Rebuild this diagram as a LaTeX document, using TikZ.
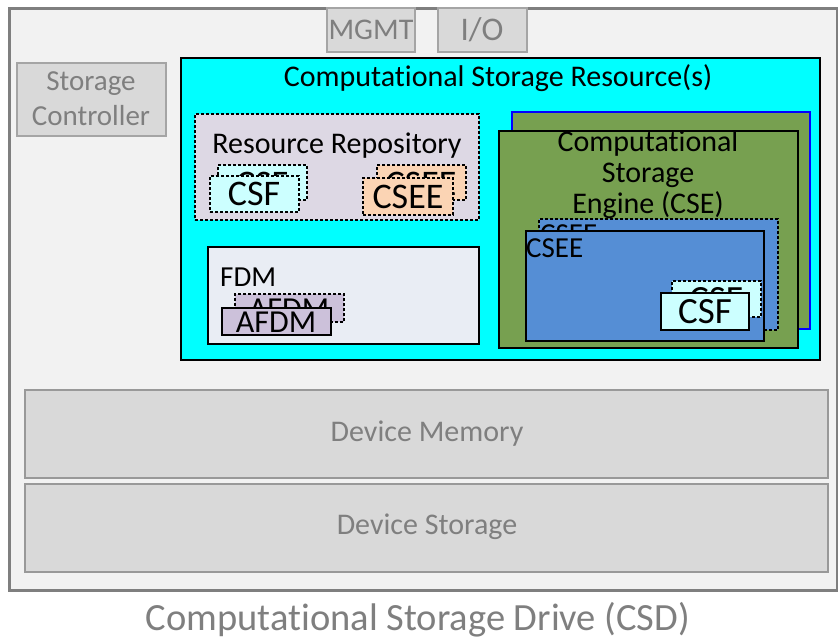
\documentclass[tikz,border=0pt]{standalone}
\usepackage{fontspec}
\setmainfont{Carlito}[Ligatures=NoCommon]
\definecolor{framegray}{HTML}{7F7F7F}
\definecolor{bggray}{HTML}{F2F2F2}
\definecolor{boxgray}{HTML}{D9D9D9}
\definecolor{txtgray}{HTML}{7F7F7F}
\definecolor{cyanbg}{HTML}{00FFFF}
\definecolor{repofill}{HTML}{DDD8E4}
\definecolor{csffill}{HTML}{CCFFFF}
\definecolor{cseefill}{HTML}{FBD4B4}
\definecolor{fdmfill}{HTML}{E9EDF4}
\definecolor{afdmfill}{HTML}{CCC1DA}
\definecolor{csegreen}{HTML}{77A050}
\definecolor{cseeblue}{HTML}{558ED5}
\tikzset{
  box/.style={anchor=north west, inner sep=0pt, outer sep=0pt},
  graybox/.style={box, draw=framegray!80, fill=boxgray, line width=2pt},
  solidbox/.style={box, draw=black, line width=2pt},
  dashbox/.style={box, draw=black, line width=2pt, dash pattern=on 3pt off 2pt},
  graytxt/.style={text=txtgray, inner sep=0pt},
  blacktxt/.style={text=black, inner sep=0pt},
}
\newcommand{\fs}[1]{\fontsize{#1}{#1}\selectfont}
\begin{document}
\begin{tikzpicture}[x=1pt,y=-1pt]
\useasboundingbox (0,0) rectangle (838,640);
\fill[white] (0,0) rectangle (838,640);
% outer drive
\node[box, draw=framegray, fill=bggray, line width=3pt, minimum width=828pt, minimum height=582pt] (csd) at (9,8) {};
% MGMT and I/O
\node[graybox, draw=framegray!70, minimum width=88pt, minimum height=44pt] (mgmt) at (327,8) {};
\node[graytxt, font=\fs{30}] (mgmtt) at (371,30) {MGMT};
\node[graybox, draw=framegray!70, minimum width=89pt, minimum height=44pt] (io) at (438,8) {};
\node[graytxt, font=\fs{33}] (iot) at (482,30) {I/O};
% storage controller
\node[graybox, draw=framegray!70, minimum width=149pt, minimum height=73pt] (sc) at (17,63) {};
\node[graytxt, font=\fs{29}, align=center] (sct) at (91,99) {Storage\\[6pt]Controller};
% CSR
\node[box, draw=black, fill=cyanbg, line width=2pt, minimum width=639pt, minimum height=302pt] (csr) at (181,58) {};
\node[blacktxt, font=\fs{30}] (csrt) at (498,78) {Computational Storage Resource(s)};
% resource repository
\node[dashbox, fill=repofill, minimum width=284pt, minimum height=106pt] (repo) at (195,114) {};
\node[blacktxt, font=\fs{30}] (repot) at (337,146) {Resource Repository};
\node[dashbox, fill=csffill, minimum width=89pt, minimum height=35pt] (rcsfb) at (218,165) {};
\node[blacktxt, font=\fs{36}] (rcsfbt) at (262,184) {CSF};
\node[dashbox, fill=csffill, minimum width=89pt, minimum height=36pt] (rcsf) at (210,176) {};
\node[blacktxt, font=\fs{36}] (rcsft) at (254,194) {CSF};
\node[dashbox, fill=cseefill, minimum width=89pt, minimum height=35pt] (rcseeb) at (377,165) {};
\node[blacktxt, font=\fs{36}] (rcseebt) at (421,184) {CSEE};
\node[dashbox, fill=cseefill, minimum width=90pt, minimum height=37pt] (rcsee) at (363,178) {};
\node[blacktxt, font=\fs{36}] (rcseet) at (408,197) {CSEE};
% FDM
\node[solidbox, line width=1.5pt, fill=fdmfill, minimum width=271pt, minimum height=97pt] (fdm) at (208,247) {};
\node[blacktxt, font=\fs{29}, anchor=west] (fdmt) at (220,277) {FDM};
\node[dashbox, fill=afdmfill, minimum width=109pt, minimum height=28pt] (afdmb) at (235,294) {};
\node[blacktxt, font=\fs{32}] (afdmbt) at (289,309) {AFDM};
\node[solidbox, line width=1.5pt, fill=afdmfill, minimum width=109pt, minimum height=27pt] (afdm) at (222,308) {};
\node[blacktxt, font=\fs{32}] (afdmt) at (276,322) {AFDM};
% CSE
\node[box, draw=blue, fill=csegreen, line width=2pt, minimum width=298pt, minimum height=217pt] (cseb) at (512,112) {};
\node[solidbox, fill=csegreen, minimum width=299pt, minimum height=217pt] (cse) at (499,131) {};
\node[blacktxt, font=\fs{30}, align=center] (cset) at (648,175) {Computational\\[1pt]Storage\\[1pt]Engine (CSE)};
\node[dashbox, fill=cseeblue, minimum width=239pt, minimum height=111pt] (cseeb) at (539,219) {};
\node[blacktxt, font=\fs{29}, anchor=base west] (cseebt) at (540,243) {CSEE};
\node[solidbox, fill=cseeblue, minimum width=238pt, minimum height=110pt] (csee) at (526,231) {};
\node[blacktxt, font=\fs{29}, anchor=base west] (cseet) at (526,257) {CSEE};
\node[dashbox, fill=csffill, minimum width=89pt, minimum height=36pt] (csfb) at (672,281) {};
\node[blacktxt, font=\fs{37}] (csfbt) at (716,300) {CSF};
\node[solidbox, fill=csffill, minimum width=88pt, minimum height=37pt] (csf) at (661,293) {};
\node[blacktxt, font=\fs{37}] (csft) at (705,312) {CSF};
% device memory / storage
\node[graybox, minimum width=803pt, minimum height=88pt] (mem) at (25,390) {};
\node[graytxt, font=\fs{30}] (memt) at (427,434) {Device Memory};
\node[graybox, minimum width=803pt, minimum height=88pt] (stor) at (25,484) {};
\node[graytxt, font=\fs{30}] (stort) at (427,527) {Device Storage};
% caption
\node[graytxt, font=\fs{38.5}] (cap) at (418,620) {Computational Storage Drive (CSD)};
\end{tikzpicture}
\end{document}
